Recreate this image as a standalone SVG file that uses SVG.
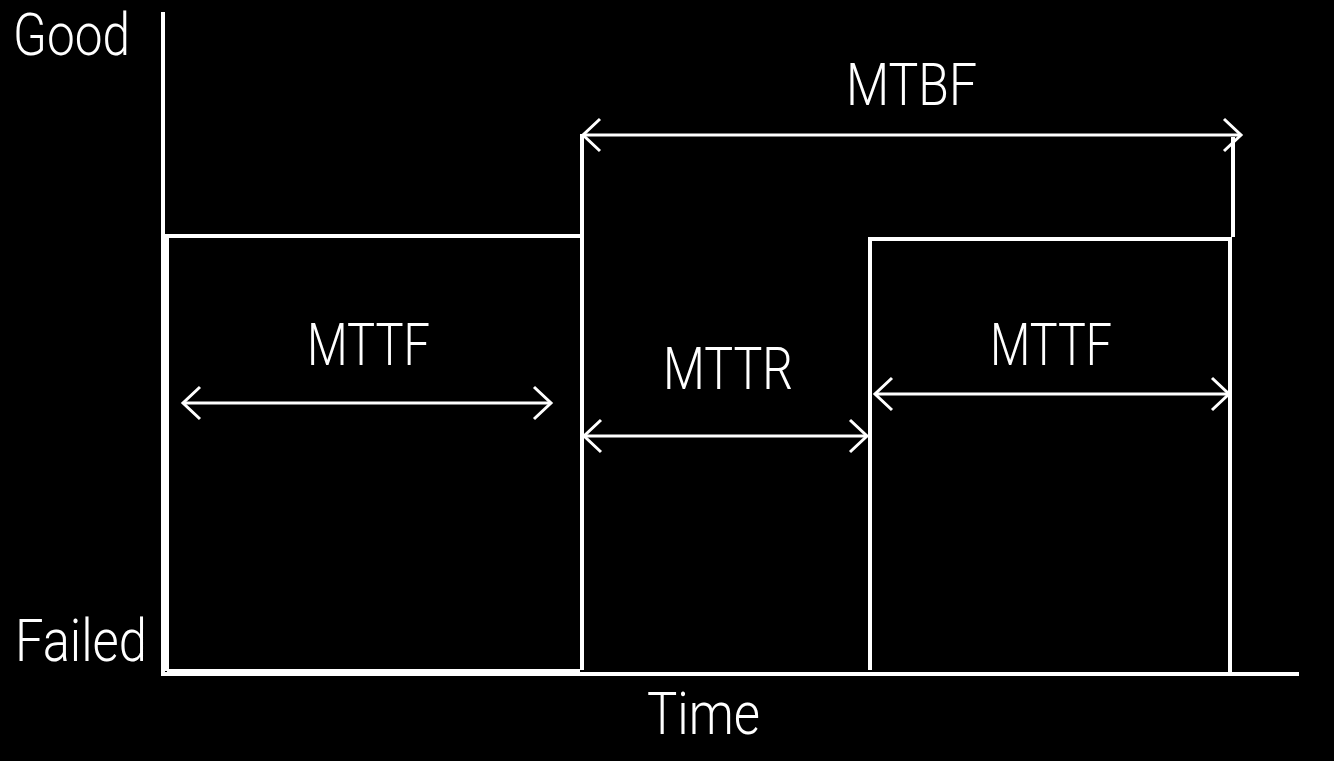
<svg xmlns="http://www.w3.org/2000/svg" width="1334" height="761" viewBox="0 0 1334 761">
  <style>
    .ln { stroke: #ffffff; stroke-width: 4; fill: none; stroke-linecap: butt; }
    .ar { stroke: #ffffff; stroke-width: 3; fill: none; }
    .lbl { fill: #ffffff; font-family: Roboto, "Liberation Sans", sans-serif; font-weight: 300; font-size: 59px; }
  </style>
  <defs>
    <marker id="chev" viewBox="-22 -20 26 40" refX="0" refY="0" markerWidth="26" markerHeight="40" markerUnits="userSpaceOnUse" orient="auto-start-reverse">
      <path d="M -17 -16 L 0 0 L -17 16" fill="none" stroke="#ffffff" stroke-width="3"/>
    </marker>
  </defs>
  <rect x="0" y="0" width="1334" height="761" fill="#000000"/>

  <g id="axes">
    <line class="ln" x1="163" y1="12" x2="163" y2="676"/>
    <line class="ln" x1="161" y1="674" x2="1299" y2="674"/>
    <text class="lbl" x="13" y="55" textLength="117" lengthAdjust="spacingAndGlyphs">Good</text>
    <text class="lbl" x="15" y="661" textLength="132" lengthAdjust="spacingAndGlyphs">Failed</text>
    <text class="lbl" x="647" y="734" textLength="113" lengthAdjust="spacingAndGlyphs">Time</text>
  </g>

  <g id="signal">
    <polyline class="ln" points="167,671 167,236 582,236"/>
    <line class="ln" x1="582" y1="134" x2="582" y2="670"/>
    <polyline class="ln" points="870,670 870,239 1230,239 1230,673"/>
    <line class="ln" x1="1233" y1="137" x2="1233" y2="237"/>
    <line class="ln" x1="167" y1="671" x2="580" y2="671" stroke-width="3"/>
  </g>

  <g id="connectors">
    <line class="ar" x1="583" y1="135" x2="1241" y2="135" marker-start="url(#chev)" marker-end="url(#chev)"/>
    <line class="ar" x1="183" y1="403" x2="551" y2="403" marker-start="url(#chev)" marker-end="url(#chev)"/>
    <line class="ar" x1="584" y1="436" x2="867" y2="436" marker-start="url(#chev)" marker-end="url(#chev)"/>
    <line class="ar" x1="875" y1="394" x2="1229" y2="394" marker-start="url(#chev)" marker-end="url(#chev)"/>
  </g>

  <g id="mtbf">
    <text class="lbl" x="846" y="105" textLength="131" lengthAdjust="spacingAndGlyphs">MTBF</text>
  </g>
  <g id="mttf1">
    <text class="lbl" x="307" y="365" textLength="123" lengthAdjust="spacingAndGlyphs">MTTF</text>
  </g>
  <g id="mttr">
    <text class="lbl" x="663" y="389" textLength="130" lengthAdjust="spacingAndGlyphs">MTTR</text>
  </g>
  <g id="mttf2">
    <text class="lbl" x="990" y="365" textLength="122" lengthAdjust="spacingAndGlyphs">MTTF</text>
  </g>
</svg>
